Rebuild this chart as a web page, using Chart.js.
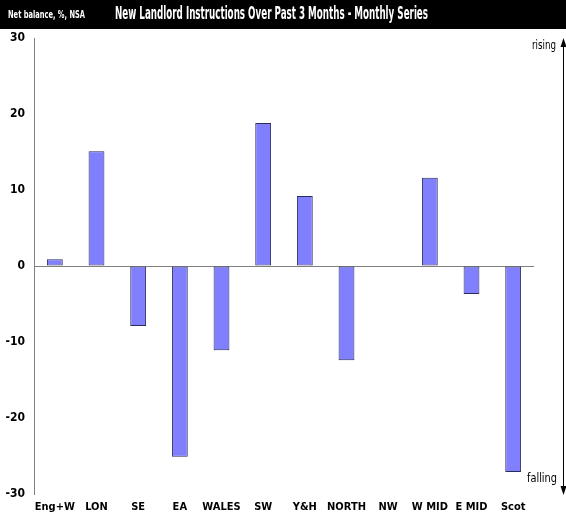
<!DOCTYPE html>
<html>
<head>
<meta charset="utf-8">
<script src="https://cdn.jsdelivr.net/npm/chart.js@4/dist/chart.umd.min.js"></script>
<style>
  html, body { margin: 0; padding: 0; background: #fff; }
  #wrap { position: relative; width: 566px; height: 517px; }
</style>
</head>
<body>
<div id="wrap"><canvas id="chart" width="566" height="517"></canvas></div>
<script>
const regions = ["Eng+W", "LON", "SE", "EA", "WALES", "SW", "Y&H", "NORTH", "NW", "W MID", "E MID", "Scot"];
const netBalance = [0.9, 15.1, -7.9, -25.1, -11.1, 18.8, 9.2, -12.4, 0, 11.6, -3.7, -27.1];
const yTicks = [-30, -20, -10, 0, 10, 20, 30];

const FONT = "'DejaVu Sans Condensed', 'Liberation Sans Narrow', 'Arial Narrow', sans-serif";

// write text squeezed horizontally into a given width
function fitText(ctx, text, x, y, width) {
  const w = ctx.measureText(text).width;
  ctx.save();
  ctx.translate(x, y);
  ctx.scale(width / w, 1);
  ctx.fillText(text, 0, 0);
  ctx.restore();
}

// black header strip plus the rising/falling arrow on the right edge
const decorations = {
  id: "decorations",
  afterDraw(chart) {
    const ctx = chart.ctx;
    const { top, bottom } = chart.chartArea;
    ctx.save();
    ctx.fillStyle = "#000";
    ctx.fillRect(0, 0, chart.width, 29);
    ctx.fillStyle = "#fff";
    ctx.textBaseline = "middle";
    ctx.font = "bold 11px " + FONT;
    fitText(ctx, "Net balance, %, NSA", 8, 15, 77);
    ctx.font = "bold 17px " + FONT;
    fitText(ctx, "New Landlord Instructions Over Past 3 Months - Monthly Series", 115, 15, 313);

    const ax = 563;
    ctx.strokeStyle = "#000";
    ctx.fillStyle = "#000";
    ctx.lineWidth = 1;
    ctx.beginPath();
    ctx.moveTo(ax + 0.5, top + 4);
    ctx.lineTo(ax + 0.5, bottom - 4);
    ctx.stroke();
    ctx.beginPath();
    ctx.moveTo(ax + 0.5, top);
    ctx.lineTo(ax - 2.5, top + 9);
    ctx.lineTo(ax + 3.5, top + 9);
    ctx.closePath();
    ctx.fill();
    ctx.beginPath();
    ctx.moveTo(ax + 0.5, bottom + 1);
    ctx.lineTo(ax - 2.5, bottom - 8);
    ctx.lineTo(ax + 3.5, bottom - 8);
    ctx.closePath();
    ctx.fill();

    ctx.font = "13px " + FONT;
    fitText(ctx, "rising", 532, top + 8, 24);
    fitText(ctx, "falling", 527, bottom - 15, 30);
    ctx.restore();
  }
};

new Chart(document.getElementById("chart").getContext("2d"), {
  type: "bar",
  data: {
    labels: regions,
    datasets: [
      {
        data: netBalance,
        backgroundColor: "#8080FF",
        borderColor: "#2c2c5c",
        borderWidth: 1,
        borderSkipped: false,
        categoryPercentage: 1,
        barPercentage: 0.38,
      },
    ],
  },
  options: {
    responsive: false,
    animation: false,
    layout: { padding: { top: 38, right: 32, left: 0, bottom: 0 } },
    plugins: {
      legend: { display: false },
      tooltip: { enabled: false },
    },
    scales: {
      x: {
        grid: { display: false, drawTicks: false },
        border: { display: false },
        ticks: {
          color: "#000",
          font: { family: FONT, size: 11, weight: "bold" },
          padding: 7,
          maxRotation: 0,
          autoSkip: false,
        },
        afterFit: (scale) => { scale.height = 23; },
      },
      y: {
        min: yTicks[0],
        max: yTicks[yTicks.length - 1],
        afterBuildTicks: (scale) => { scale.ticks = yTicks.map((v) => ({ value: v })); },
        grid: {
          drawTicks: false,
          color: (c) => (c.tick && c.tick.value === 0 ? "#808080" : "rgba(0,0,0,0)"),
          lineWidth: 1,
        },
        border: { display: true, color: "#808080", width: 1 },
        ticks: {
          color: "#000",
          font: { family: FONT, size: 12, weight: "bold" },
          padding: 9,
        },
        afterFit: (scale) => { scale.width = 34; },
      },
    },
  },
  plugins: [decorations],
});
</script>
</body>
</html>
